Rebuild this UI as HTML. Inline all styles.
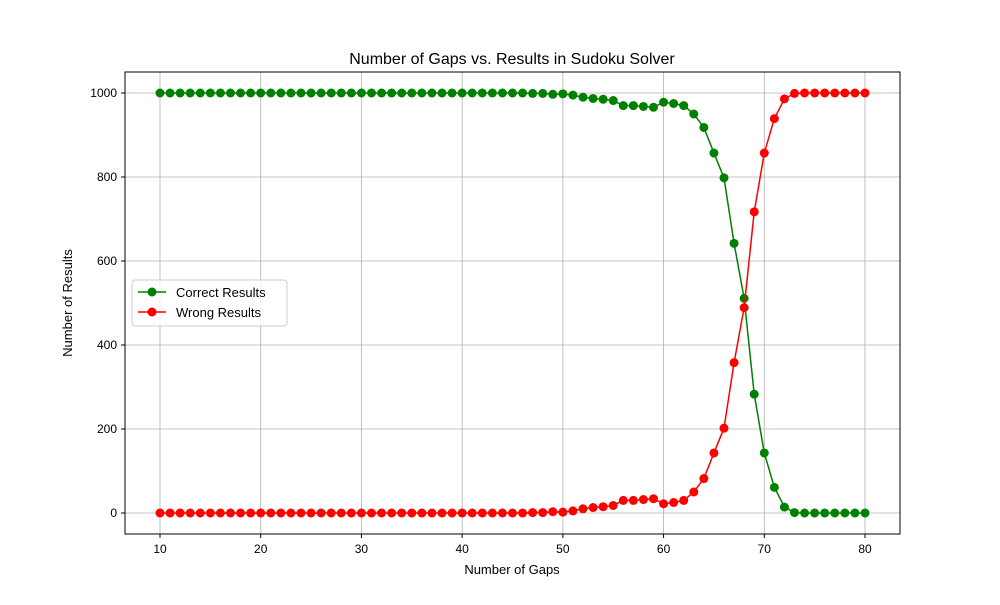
<!DOCTYPE html>
<html><head><meta charset="utf-8"><style>
body{margin:0;background:#fff}
svg{font-family:"Liberation Sans","DejaVu Sans",sans-serif}
</style></head><body>
<svg id="c" width="1000" height="600">
<rect width="1000" height="600" fill="#fff"/>
<text x="512" y="64" text-anchor="middle" font-size="16">Number of Gaps vs. Results in Sudoku Solver</text>
<g id="grid"></g><g id="axes"></g><g id="series"></g>
<text x="512" y="574" text-anchor="middle" font-size="13">Number of Gaps</text>
<text transform="translate(72,303) rotate(-90)" text-anchor="middle" font-size="13">Number of Results</text>
<g>
<rect x="132" y="280" width="155" height="46" fill="#fff" fill-opacity="0.8" stroke="#ccc" rx="3"/>
<line x1="138" y1="292" x2="166" y2="292" stroke="green" stroke-width="1.5"/><circle cx="152" cy="292" r="4.5" fill="green"/>
<text x="176" y="297" font-size="13">Correct Results</text>
<line x1="138" y1="312" x2="166" y2="312" stroke="red" stroke-width="1.5"/><circle cx="152" cy="312" r="4.5" fill="red"/>
<text x="176" y="317" font-size="13">Wrong Results</text>
</g>
</svg>
<script>
const gaps=[];for(let g=10;g<=80;g++)gaps.push(g);
const correct=[1000,1000,1000,1000,1000,1000,1000,1000,1000,1000,1000,1000,1000,1000,1000,1000,1000,1000,1000,1000,1000,1000,1000,1000,1000,1000,1000,1000,1000,1000,1000,1000,1000,1000,1000,1000,1000,999,999,997,998,995,990,987,985,982,970,970,968,966,978,975,970,950,918,857,798,642,511,283,143,61,14,1,0,0,0,0,0,0,0];
const wrong=[0,0,0,0,0,0,0,0,0,0,0,0,0,0,0,0,0,0,0,0,0,0,0,0,0,0,0,0,0,0,0,0,0,0,0,0,0,1,1,3,2,5,10,13,15,18,30,30,32,34,22,25,30,50,82,143,202,358,489,717,857,939,986,999,1000,1000,1000,1000,1000,1000,1000];
const xTicks=[10,20,30,40,50,60,70,80];
const yTicks=[0,200,400,600,800,1000];
const L=125,R=900,T=72,B=534;
const x=v=>160+(v-10)*(865-160)/70;
const y=v=>513-v*(513-93)/1000;
const NS='http://www.w3.org/2000/svg';
function mk(tag,attrs,parent){const e=document.createElementNS(NS,tag);for(const k in attrs)e.setAttribute(k,attrs[k]);parent.appendChild(e);return e;}
const grid=document.getElementById('grid'),axes=document.getElementById('axes'),series=document.getElementById('series');
xTicks.forEach(t=>{
 const l=mk('line',{x1:x(t),x2:x(t),y1:T,y2:B,stroke:'#b0b0b0','stroke-width':0.8},grid);
 
 mk('line',{x1:x(t),x2:x(t),y1:B,y2:B+4,stroke:'#000'},axes);
 const tx=mk('text',{x:x(t),y:B+19,'text-anchor':'middle','font-size':12},axes);tx.textContent=t;
 
});
yTicks.forEach(t=>{
 const l=mk('line',{x1:L,x2:R,y1:y(t),y2:y(t),stroke:'#b0b0b0','stroke-width':0.8},grid);
 
 mk('line',{x1:L-4,x2:L,y1:y(t),y2:y(t),stroke:'#000'},axes);
 const tx=mk('text',{x:L-8,y:y(t)+4,'text-anchor':'end','font-size':12},axes);tx.textContent=t;
 
});
const frame=mk('rect',{x:L,y:T,width:R-L,height:B-T,fill:'none',stroke:'#000','stroke-width':1},axes);

function draw(vals,color,name){
 const p=mk('polyline',{points:vals.map((v,i)=>x(gaps[i])+','+y(v)).join(' '),fill:'none',stroke:color,'stroke-width':1.5},series);
 
 vals.forEach((v,i)=>{const c=mk('circle',{cx:x(gaps[i]),cy:y(v),r:4.5,fill:color},series);
  });
}
draw(correct,'green','correct');
draw(wrong,'red','wrong');
</script>
</body></html>
